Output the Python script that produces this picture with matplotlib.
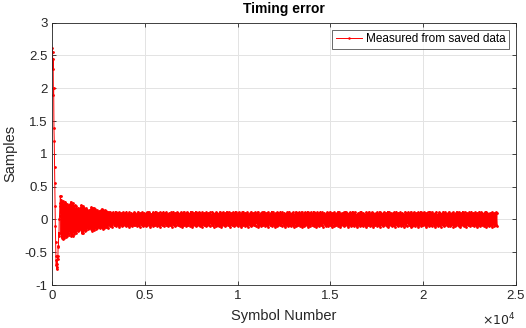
import numpy as np
import matplotlib.pyplot as plt

plt.rcParams['font.family'] = ['Liberation Sans', 'DejaVu Sans']

# --- data ---
# start-up transient (symbol, timing error)
head_symbol = [0, 15, 30, 45, 60, 75, 90, 105, 120, 135, 150, 165, 180, 195, 210,
               225, 240, 255, 270, 285, 300, 315, 330, 345, 360, 375, 390, 405, 420, 435]
head_error = [2.62, 2.55, 2.3, 2.45, 1.9, 2.0, 1.4, 1.2, 0.8, 0.55, 0.2, -0.1, -0.35,
              -0.55, -0.7, -0.62, -0.76, -0.68, -0.72, -0.55, -0.6, -0.4, -0.42, -0.2,
              -0.25, 0.0, 0.05, 0.2, 0.25, 0.36]

# decaying oscillation, 450 .. 3000 (alternating peaks / troughs)
decay_peaks = [0.35, 0.30, 0.26, 0.28, 0.22, 0.25, 0.27, 0.20, 0.24, 0.18, 0.22, 0.19, 0.23,
               0.27, 0.24, 0.20, 0.25, 0.18, 0.22, 0.16, 0.20, 0.14, 0.18, 0.15, 0.13, 0.17,
               0.22, 0.19, 0.21, 0.16, 0.18, 0.14, 0.17, 0.12, 0.15, 0.11, 0.14, 0.12, 0.16,
               0.19, 0.17, 0.15, 0.18, 0.13, 0.16, 0.11, 0.14, 0.12, 0.10, 0.13, 0.11, 0.14,
               0.16, 0.13, 0.15, 0.12, 0.14, 0.11, 0.13, 0.12]
decay_troughs = [-0.22, -0.28, -0.30, -0.26, -0.29, -0.24, -0.27, -0.22, -0.25, -0.20, -0.23, -0.18, -0.21,
                 -0.26, -0.23, -0.25, -0.19, -0.22, -0.17, -0.20, -0.15, -0.18, -0.14, -0.16, -0.13, -0.15,
                 -0.21, -0.18, -0.20, -0.15, -0.17, -0.13, -0.16, -0.12, -0.14, -0.11, -0.13, -0.12, -0.14,
                 -0.17, -0.15, -0.13, -0.16, -0.12, -0.14, -0.11, -0.13, -0.10, -0.12, -0.11, -0.13, -0.10, -0.12,
                 -0.14, -0.12, -0.13, -0.10, -0.12, -0.11, -0.13, -0.10]

# steady state, 3000 .. 24000, in hundredths of a sample (alternating peaks / troughs)
steady_peaks = [
    11, 9, 12, 8, 10, 11, 7, 9, 12, 10, 8, 11, 9, 10, 7, 11, 8, 9, 10, 12, 8, 9, 11, 7, 10,
    9, 8, 11, 10, 7, 9, 12, 8, 10, 9, 11, 7, 10, 8, 9, 11, 10, 12, 8, 9, 7, 11, 10, 9, 12,
    8, 10, 9, 11, 7, 10, 8, 12, 9, 10, 11, 8, 9, 10, 7, 11, 9, 12, 8, 10, 9, 11, 10, 8, 7,
    11, 9, 10, 12, 8, 9, 11, 10, 7, 9, 12, 11, 8, 10, 9, 12, 10, 8, 11, 9, 10, 7, 11, 8, 10,
    9, 11, 8, 10, 9, 11, 7, 12, 10, 9, 8, 11, 10, 9, 7, 12, 8, 10, 11, 9, 10, 8, 12, 9, 11,
    7, 10, 9, 11, 8, 10, 12, 9, 8, 11, 10, 7, 9, 11, 12, 8, 10, 9, 11, 8, 7, 10, 12, 9, 10,
    8, 11, 9, 10, 12, 7, 9, 10, 11, 8, 12, 9, 10, 8, 11, 9, 7, 10, 12, 11, 9, 8, 10, 9, 11,
    10, 8, 12, 9, 11, 7, 10, 9, 8, 11, 10, 12, 9, 8, 10, 11, 7, 9, 12, 10, 8, 11, 9, 10, 12,
    9, 7, 11, 10, 8, 12, 9, 10, 11, 8, 9, 12, 7, 10, 9, 11, 8, 10, 12, 9, 11, 8, 10, 7, 9,
    11, 10, 8, 12, 9, 10, 7, 11, 9, 8, 10, 12, 11, 9, 8, 10, 7, 11, 9, 12, 10, 8, 9, 11, 10,
    8, 12, 9, 10, 11, 7, 9, 10, 8, 11, 12, 9, 10, 8, 7, 11, 9, 10, 12, 8, 9, 11, 10, 9, 7,
    10, 11, 8, 9, 12, 10, 9, 7, 11, 8, 10, 9, 12, 11, 8, 10, 9, 7, 10, 11, 9, 12, 8, 10, 9,
    11, 8, 10, 9, 7, 12, 10, 8, 11, 9, 10, 12, 9, 8, 11, 7, 10, 9, 11, 10, 8, 12, 9, 10, 11,
    9, 10, 7, 11, 8, 12, 9, 10, 11, 8, 9, 10, 12, 7, 9, 11, 10, 8, 9, 12, 10, 11, 8, 9, 10,
    12, 9, 8, 10, 11, 9, 7, 10, 12, 8, 11, 9, 10, 8, 12, 9, 11, 7, 10, 9, 8, 11, 10, 12, 9,
    10, 8, 11, 9, 10, 7, 12, 9, 11, 10, 8, 9, 11, 12, 10, 8, 9, 10, 7, 11, 9, 10, 8, 11, 10]
steady_troughs = [
    9, 7, 10, 8, 11, 6, 9, 8, 10, 7, 9, 11, 8, 7, 10, 9, 6, 8, 10, 9, 7, 11, 8, 9, 10,
    7, 8, 9, 6, 10, 8, 9, 11, 7, 8, 10, 9, 7, 8, 10, 9, 6, 8, 11, 9, 7, 10, 8, 9, 7,
    10, 8, 9, 11, 7, 8, 9, 10, 6, 8, 9, 10, 7, 9, 8, 11, 7, 9, 10, 8, 6, 9, 8, 10, 9,
    7, 11, 8, 9, 7, 10, 8, 9, 6, 10, 8, 11, 9, 7, 8, 10, 9, 7, 8, 10, 9, 11, 7, 8, 9,
    10, 8, 7, 9, 10, 6, 8, 9, 11, 7, 10, 8, 9, 7, 10, 8, 11, 9, 7, 8, 10, 9, 6, 8, 9,
    11, 7, 9, 8, 10, 9, 7, 8, 10, 6, 9, 11, 8, 9, 7, 10, 8, 9, 11, 7, 8, 10, 9, 7, 8,
    9, 10, 6, 8, 11, 9, 7, 10, 8, 9, 7, 10, 9, 8, 11, 6, 9, 8, 10, 7, 9, 11, 8, 10, 9,
    7, 9, 8, 10, 6, 9, 11, 8, 7, 10, 9, 8, 10, 7, 9, 11, 8, 6, 10, 9, 8, 7, 10, 9, 11,
    8, 10, 9, 7, 8, 11, 9, 10, 6, 8, 9, 10, 7, 11, 8, 9, 10, 7, 8, 9, 11, 6, 8, 10, 9,
    10, 7, 9, 8, 11, 9, 6, 10, 8, 9, 7, 10, 8, 11, 9, 7, 8, 10, 9, 6, 8, 11, 9, 7, 10,
    9, 8, 10, 7, 9, 11, 8, 6, 10, 9, 8, 10, 7, 9, 11, 8, 9, 7, 10, 8, 9, 6, 11, 8, 9,
    7, 10, 8, 9, 11, 7, 8, 10, 9, 6, 8, 10, 11, 9, 7, 8, 10, 9, 8, 11, 7, 9, 10, 8, 6,
    10, 9, 7, 11, 8, 9, 10, 6, 8, 9, 11, 7, 10, 8, 9, 10, 7, 8, 11, 9, 6, 10, 8, 9, 7,
    9, 11, 8, 7, 10, 9, 8, 10, 6, 9, 11, 8, 7, 10, 9, 8, 11, 7, 9, 10, 8, 6, 9, 10, 8,
    8, 10, 9, 7, 11, 8, 10, 9, 6, 8, 10, 11, 9, 7, 8, 10, 9, 11, 7, 8, 9, 10, 6, 9, 8,
    10, 7, 9, 11, 8, 9, 10, 7, 8, 6, 10, 9, 11, 8, 7, 9, 10, 8, 9, 11, 7, 10, 8, 9, 10]

x_ticks = [0, 5000, 10000, 15000, 20000, 25000]
y_ticks = [-1, -0.5, 0, 0.5, 1, 1.5, 2, 2.5, 3]


def interleave(peaks, troughs):
    out = []
    for p, t in zip(peaks, troughs):
        out += [p, t]
    return out


decay_err = interleave(decay_peaks, decay_troughs)
steady_err = np.array(interleave(steady_peaks, [-t for t in steady_troughs])) / 100
decay_sym = np.linspace(450, 3000, len(decay_err), endpoint=False)
steady_sym = np.linspace(3000, 24000, len(steady_err))

symbol = np.concatenate([head_symbol, decay_sym, steady_sym])
error = np.concatenate([head_error, decay_err, steady_err])

fig = plt.figure(figsize=(5.26, 3.28), dpi=100)
ax = fig.add_axes([0.0994, 0.131, 0.8812, 0.8])

ax.plot(symbol, error, color='red', lw=0.7, marker='.', ms=2,
        label='Measured from saved data')

ax.set_xlim(0, 25000)
ax.set_ylim(-1, 3)
ax.set_xticks(x_ticks)
ax.set_xticklabels([f'{t / 1e4:g}' for t in x_ticks])
ax.set_yticks(y_ticks)
ax.set_yticklabels([f'{t:g}' for t in y_ticks])
ax.grid(True, color='#e3e3e3', lw=0.7)
ax.set_axisbelow(True)
ax.tick_params(direction='in', top=True, right=True, length=3, labelsize=9.5,
               colors='#262626', width=0.6)
for s in ax.spines.values():
    s.set_color('#262626')
    s.set_linewidth(0.6)

ax.set_title('Timing error', fontsize=10, fontweight='bold', pad=7)
ax.set_xlabel('Symbol Number', fontsize=10.5, color='#262626', labelpad=5)
ax.set_ylabel('Samples', fontsize=10.5, color='#262626', labelpad=5)
ax.text(1.0, -0.1, r'$\times10^4$', transform=ax.transAxes, ha='right', va='top',
        fontsize=9, color='#262626')

leg = ax.legend(loc='upper right', fontsize=8.5, frameon=True, fancybox=False,
                borderpad=0.3, handlelength=2.2, handletextpad=0.3,
                borderaxespad=0.6, markerscale=0.8)
leg.get_frame().set_edgecolor('#262626')
leg.get_frame().set_linewidth(0.6)

fig.savefig('out.png', dpi=100)
